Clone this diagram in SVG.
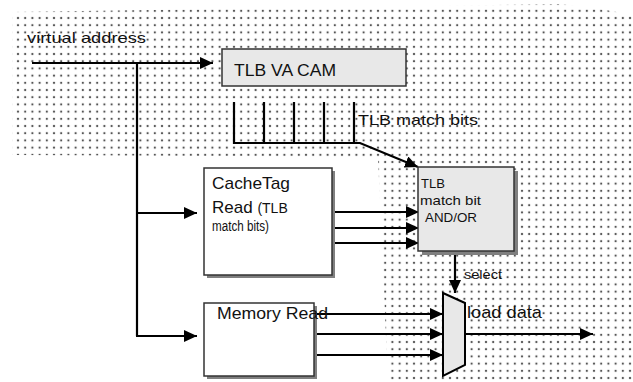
<svg xmlns="http://www.w3.org/2000/svg" width="633" height="382" viewBox="0 0 633 382">
<style>
text{font-family:"Liberation Sans",Arial,sans-serif;fill:#111}
.ln{stroke:#000;stroke-width:2.2;fill:none}
.ar{stroke:#000;stroke-width:2.2;fill:none;marker-end:url(#ah)}
.box{fill:#e8e8e8;stroke:#333;stroke-width:1.5}
.wbox{fill:#fff;stroke:#333;stroke-width:1.5}
.sh{fill:#808080}
</style>
<defs>
<pattern id="dots" width="7.2" height="7.2" patternUnits="userSpaceOnUse">
<rect x="2.6" y="2.6" width="2" height="2" fill="#555"/>
</pattern>
<marker id="ah" markerWidth="14" markerHeight="12" refX="13" refY="6" orient="auto" markerUnits="userSpaceOnUse">
<path d="M0,0 L13,6 L0,12 z" fill="#000"/>
</marker>
</defs>
<rect width="633" height="382" fill="#fff"/>
<polygon points="12,12 300,8 560,4 600,9 633,15 633,382 388,382 378,157 12,155" fill="url(#dots)"/>
<g id="connectors">
<line class="ar" x1="32" y1="63" x2="213" y2="63"/>
<polyline class="ln" points="137,63 137,336"/>
<line class="ar" x1="136" y1="213" x2="197" y2="213"/>
<line class="ar" x1="136" y1="336" x2="197" y2="336"/>
<line class="ln" x1="234" y1="102" x2="234" y2="144"/>
<line class="ln" x1="264" y1="102" x2="264" y2="144"/>
<line class="ln" x1="294" y1="102" x2="294" y2="144"/>
<line class="ln" x1="324" y1="102" x2="324" y2="144"/>
<line class="ln" x1="354" y1="102" x2="354" y2="144"/>
<polyline class="ar" points="233,143 360,143 418,167"/>
<line class="ar" x1="332" y1="212" x2="419" y2="212"/>
<line class="ar" x1="332" y1="228" x2="419" y2="228"/>
<line class="ar" x1="332" y1="243" x2="419" y2="243"/>
<line class="ar" x1="455" y1="251" x2="455" y2="293"/>
<line class="ar" x1="314" y1="314" x2="443" y2="314"/>
<line class="ar" x1="314" y1="334" x2="443" y2="334"/>
<line class="ar" x1="314" y1="355" x2="443" y2="355"/>
<line class="ar" x1="465" y1="334" x2="593" y2="334"/>
</g>
<g id="label-va">
<text x="27" y="43" font-size="15" textLength="119" lengthAdjust="spacingAndGlyphs">virtual address</text>
</g>
<g id="tlb-cam">
<rect class="box" x="222" y="49" width="184" height="37"/>
<text x="234" y="76" font-size="17" textLength="102" lengthAdjust="spacingAndGlyphs">TLB VA CAM</text>
</g>
<g id="label-match">
<text x="358" y="125" font-size="15" textLength="120" lengthAdjust="spacingAndGlyphs">TLB match bits</text>
</g>
<g id="tlb-and">
<rect class="sh" x="422" y="171" width="96" height="84"/>
<rect class="box" x="418" y="167" width="96" height="84"/>
<text x="421" y="188" font-size="13">TLB</text>
<text x="420" y="205" font-size="13" textLength="61" lengthAdjust="spacingAndGlyphs">match bit</text>
<text x="425" y="222" font-size="13" textLength="52" lengthAdjust="spacingAndGlyphs">AND/OR</text>
</g>
<g id="cachetag">
<rect class="sh" x="207" y="171" width="128" height="107"/>
<rect class="wbox" x="204" y="168" width="128" height="107"/>
<text x="212" y="189" font-size="17" textLength="78" lengthAdjust="spacingAndGlyphs">CacheTag</text>
<text x="212" y="213" font-size="17">Read <tspan font-size="14">(TLB</tspan></text>
<text x="212" y="231" font-size="14" textLength="57" lengthAdjust="spacingAndGlyphs">match bits)</text>
</g>
<g id="memread">
<rect class="sh" x="207" y="306" width="110" height="73"/>
<rect class="wbox" x="204" y="303" width="110" height="73"/>
<text x="217" y="319" font-size="17" textLength="111" lengthAdjust="spacingAndGlyphs">Memory Read</text>
</g>
<g id="mux">
<polygon points="443,293 465,303 465,365 443,376" fill="#e8e8e8" stroke="#000" stroke-width="2"/>
</g>
<g id="label-select">
<text x="464" y="279" font-size="13" textLength="38" lengthAdjust="spacingAndGlyphs">select</text>
</g>
<g id="label-load">
<text x="467" y="318" font-size="17" textLength="75" lengthAdjust="spacingAndGlyphs">load data</text>
</g>
</svg>
